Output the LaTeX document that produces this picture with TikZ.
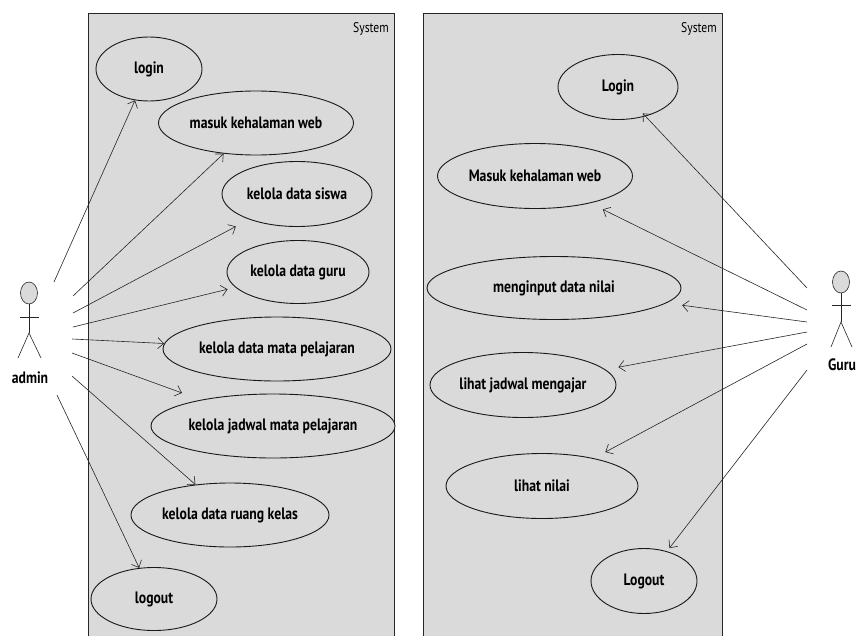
\documentclass[tikz,border=0pt]{standalone}
\usepackage{fontspec}
\setmainfont{PT Sans}
\newfontfamily\lblfont[FakeStretch=0.83]{PT Sans}
\usetikzlibrary{shapes.geometric,arrows.meta}
\definecolor{sysgray}{RGB}{218,218,218}
\begin{document}
\begin{tikzpicture}[x=1pt,y=-1pt,
  uc/.style={ellipse, draw=black!90, fill=sysgray, inner sep=0pt, line width=0.9pt,
             font=\lblfont\bfseries\fontsize{16.5}{16.5}\selectfont},
  sysbox/.style={draw=black!85, fill=sysgray, line width=0.9pt},
  systitle/.style={font=\lblfont\fontsize{14}{14}\selectfont, anchor=north east, inner sep=0pt},
  assoc/.style={-{Straight Barb[length=6pt,width=11pt]}, line width=0.6pt, draw=black!85},
  actorhead/.style={ellipse, draw=black!85, fill=sysgray, inner sep=0pt, minimum width=17pt, minimum height=22pt, line width=0.6pt},
  actorlimb/.style={line width=0.6pt, draw=black!85},
  actorname/.style={font=\lblfont\bfseries\fontsize{16.5}{16.5}\selectfont, inner sep=0pt}]
\useasboundingbox (0,0) rectangle (856,635);
\fill[white] (0,0) rectangle (856,635);
\clip (0,0) rectangle (856,635);

% system boundaries
\draw[sysbox] (88,13) rectangle (394,650);
\draw[sysbox] (423,13) rectangle (722,650);
\node[systitle] (st1) at (389,22) {System};
\node[systitle] (st2) at (717,22) {System};

% left use cases
\node[uc, minimum width=106pt, minimum height=64pt] (l1) at (149,69) {login};
\node[uc, minimum width=195pt, minimum height=64pt] (l2) at (256,123) {masuk kehalaman web};
\node[uc, minimum width=150pt, minimum height=65pt] (l3) at (297,194) {kelola data siswa};
\node[uc, minimum width=142pt, minimum height=63pt] (l4) at (298,272) {kelola data guru};
\node[uc, minimum width=228pt, minimum height=64pt] (l5) at (277,349) {kelola data mata pelajaran};
\node[uc, minimum width=244pt, minimum height=64pt] (l6) at (273,426) {kelola jadwal mata pelajaran};
\node[uc, minimum width=198pt, minimum height=64pt] (l7) at (230,515) {kelola data ruang kelas};
\node[uc, minimum width=126pt, minimum height=63pt] (l8) at (154,599) {logout};

% right use cases
\node[uc, minimum width=120pt, minimum height=65pt] (r1) at (618,87) {Login};
\node[uc, minimum width=195pt, minimum height=65pt] (r2) at (535,176) {Masuk kehalaman web};
\node[uc, minimum width=254pt, minimum height=63pt] (r3) at (554,288) {menginput data nilai};
\node[uc, minimum width=186pt, minimum height=65pt] (r4) at (523,385) {lihat jadwal mengajar};
\node[uc, minimum width=192pt, minimum height=65pt] (r5) at (542,486) {lihat nilai};
\node[uc, minimum width=106pt, minimum height=65pt] (r6) at (644,581) {Logout};

% actor admin
\node[actorhead] (ahead) at (29,293) {};
\coordinate (ahip) at (29,333);
\draw[actorlimb] (ahead.south) -- (ahip);
\draw[actorlimb] (20,317) -- (39,317);
\draw[actorlimb] (18,358) -- (ahip) -- (41,358);
\node[actorname] (admin) at (30,378) {admin};

% actor guru
\node[actorhead] (ghead) at (841,282) {};
\coordinate (ghip) at (841,322);
\draw[actorlimb] (ghead.south) -- (ghip);
\draw[actorlimb] (832,305) -- (851,305);
\draw[actorlimb] (831,347) -- (ghip) -- (852,347);
\node[actorname] (guru) at (842,365) {Guru};

% admin association tails
\coordinate (a1) at (54,282);
\coordinate (a2) at (73,296);
\coordinate (a3) at (73,313);
\coordinate (a4) at (73,327);
\coordinate (a5) at (72,339);
\coordinate (a6) at (72,353);
\coordinate (a7) at (72,376);
\coordinate (a8) at (57,395);

\draw[assoc] (a1) -- (l1);
\draw[assoc] (a2) -- (l2);
\draw[assoc, shorten >=15pt] (a3) -- (l3);
\draw[assoc, shorten >=8pt] (a4) -- (l4);
\draw[assoc] (a5) -- (l5);
\draw[assoc, shorten >=20pt] (a6) -- (l6);
\draw[assoc] (a7) -- (l7);
\draw[assoc] (a8) -- (l8);

% guru association tails
\coordinate (g1) at (807,288);
\coordinate (g2) at (807,310);
\coordinate (g3) at (807,322);
\coordinate (g4) at (807,332);
\coordinate (g5) at (807,344);
\coordinate (g6) at (807,370);

\draw[assoc, shorten >=-4pt] (g1) -- (r1);
\draw[assoc, shorten >=14pt] (g2) -- (r2);
\draw[assoc, shorten >=16pt] (g3) -- (r3);
\draw[assoc, shorten >=13pt] (g4) -- (r4);
\draw[assoc, shorten >=13pt] (g5) -- (r5);
\draw[assoc, shorten >=4pt] (g6) -- (r6);
\end{tikzpicture}
\end{document}
